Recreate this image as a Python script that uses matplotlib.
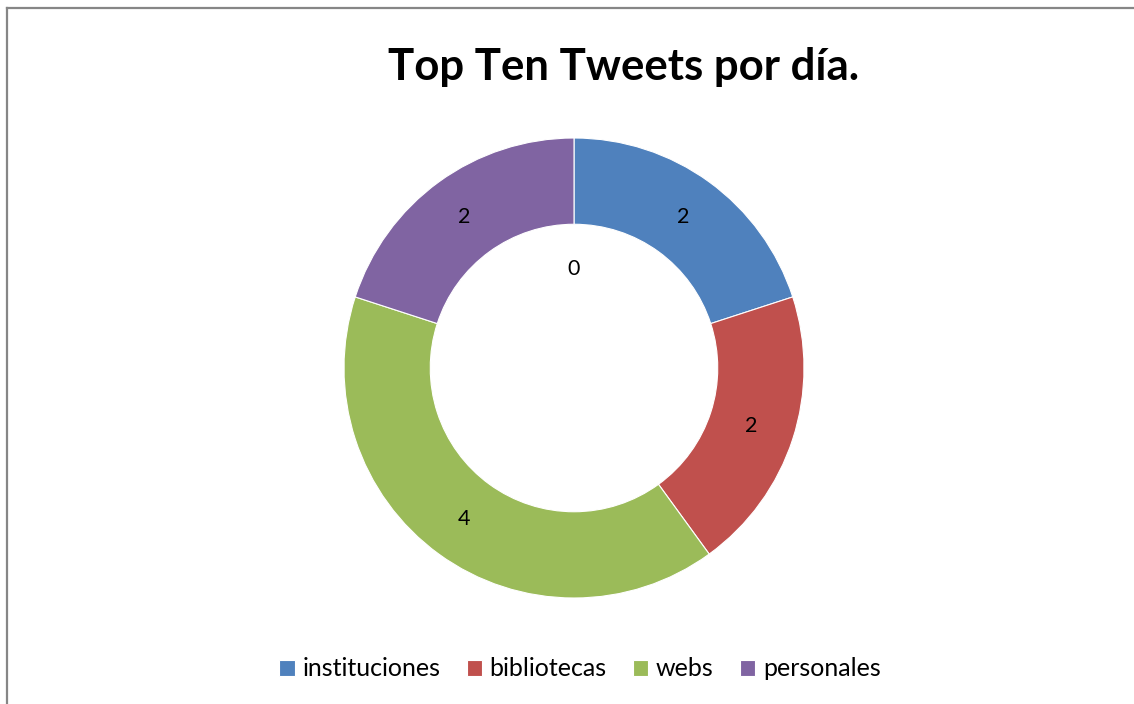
import matplotlib.pyplot as plt
from matplotlib.lines import Line2D
import numpy as np

categories = ['instituciones', 'bibliotecas', 'webs', 'personales']
values = [2, 2, 4, 2]
colors = ['#4f81bd', '#c0504d', '#9bbb59', '#8064a2']
inner_values = [0]  # empty inner series, only its label shows

W, H = 1134, 704
fig = plt.figure(figsize=(W / 100, H / 100), dpi=100)
plt.rcParams['font.family'] = ['Lato', 'DejaVu Sans']

# donut centred at (574, 368) px, outer radius 230 px
cx, cy, r = 574, 368, 230
ax = fig.add_axes([(cx - r) / W, (H - cy - r) / H, 2 * r / W, 2 * r / H])
wedges, _ = ax.pie(values, colors=colors, startangle=90, counterclock=False,
                   radius=1.0, wedgeprops=dict(width=0.375, edgecolor='white', linewidth=0.8))
ax.set_xlim(-1, 1)
ax.set_ylim(-1, 1)
ax.set_aspect('equal')
ax.axis('off')

# data labels in the middle of the ring
total = sum(values)
start = 90.0
for v in values:
    mid = np.deg2rad(start - 360.0 * v / total / 2)
    ax.text(0.81 * np.cos(mid), 0.81 * np.sin(mid), str(v),
            ha='center', va='center', fontsize=15.5, color='black')
    start -= 360.0 * v / total

for v in inner_values:
    ax.text(0, 0.43, str(v), ha='center', va='center', fontsize=15.5, color='black')

fig.text(624 / W, 1 - 67 / H, 'Top Ten Tweets por día.', ha='center', va='center',
         fontsize=31.5, fontweight='bold')

fig.legend(wedges, categories, loc='center', bbox_to_anchor=(580 / W, 1 - 669 / H),
           ncol=4, frameon=False, fontsize=18, handlelength=0.62, handleheight=0.62,
           handletextpad=0.3, columnspacing=1.05)

# chart area frame (only top and left edges are visible)
fig.add_artist(Line2D([7 / W, 7 / W], [0, 1 - 8 / H], color='#868686', linewidth=1.6))
fig.add_artist(Line2D([7 / W, 1], [1 - 8 / H, 1 - 8 / H], color='#868686', linewidth=1.6))

fig.savefig('out.png', dpi=100)
